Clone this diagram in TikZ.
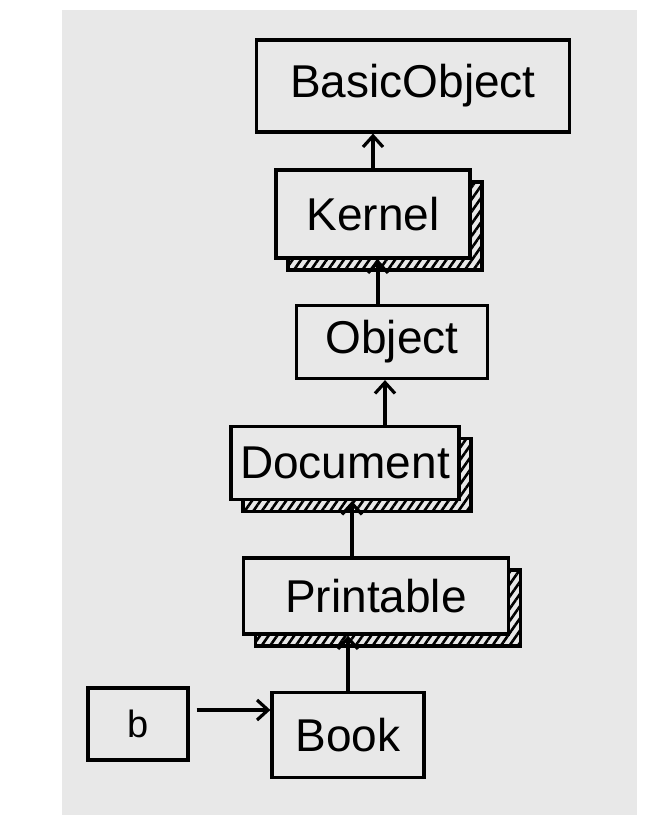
\documentclass[tikz,border=0pt]{standalone}
\usepackage{fontspec}
\setmainfont{Liberation Sans}
\usetikzlibrary{arrows.meta, positioning, shadows, patterns.meta}
\definecolor{paper}{RGB}{232,232,232}

\begin{document}
\begin{tikzpicture}[x=1pt, y=-1pt, >={Straight Barb[length=11pt, width=20pt]}]
\tikzset{
    klass/.style={rectangle, draw, line width=3.2pt, fill=paper, inner sep=0pt,
        font=\fontsize{46}{48}\selectfont},
    mixin/.style={klass, general shadow={shadow xshift=12pt, shadow yshift=-12pt,
        draw, line width=3.2pt, pattern={Lines[angle=55, distance=7pt, line width=2.6pt]}}},
    line/.style={->, line width=3.2pt}
}

% --- sheet of paper ---
\useasboundingbox (0,0) rectangle (668,824);
\fill[white] (0,0) rectangle (668,824);
\fill[paper] (62,10) rectangle (637,815);

% --- ancestor chain ---
\node (BasicObject) at (413,86) [klass, minimum width=313pt, minimum height=92pt] {BasicObject};
\node (Kernel) at (373,214) [mixin, minimum width=194pt, minimum height=88pt] {Kernel};
\node (Object) at (392,342) [klass, minimum width=191pt, minimum height=73pt] {Object};
\node (Document) at (345,463) [mixin, minimum width=228pt, minimum height=73pt] {Document};
\node (Printable) at (376,596) [mixin, minimum width=265pt, minimum height=76pt] {Printable};
\node (Book) at (348,735) [klass, minimum width=152pt, minimum height=85pt] {Book};

% the instance
\node (b) at (138,724) [klass, minimum width=100pt, minimum height=72pt,
    font=\fontsize{38}{40}\selectfont] {b};

% --- superclass links ---
\draw[line] (Kernel.north) -- (Kernel.north |- BasicObject.south);
\draw[line] ([xshift=-14pt]Object.north) -- ([xshift=-14pt]Object.north |- Kernel.south);
\draw[line] ([xshift=-7pt]Object.south |- Document.north) -- ([xshift=-7pt]Object.south);
\draw[line] ([xshift=7pt]Document.south |- Printable.north) -- ([xshift=7pt]Document.south);
\draw[line] (Book.north) -- (Book.north |- Printable.south);

% instance of
\draw[line, shorten <=7pt] ([yshift=14pt]b.east) -- ([yshift=14pt]b.east -| Book.west);

\end{tikzpicture}
\end{document}
